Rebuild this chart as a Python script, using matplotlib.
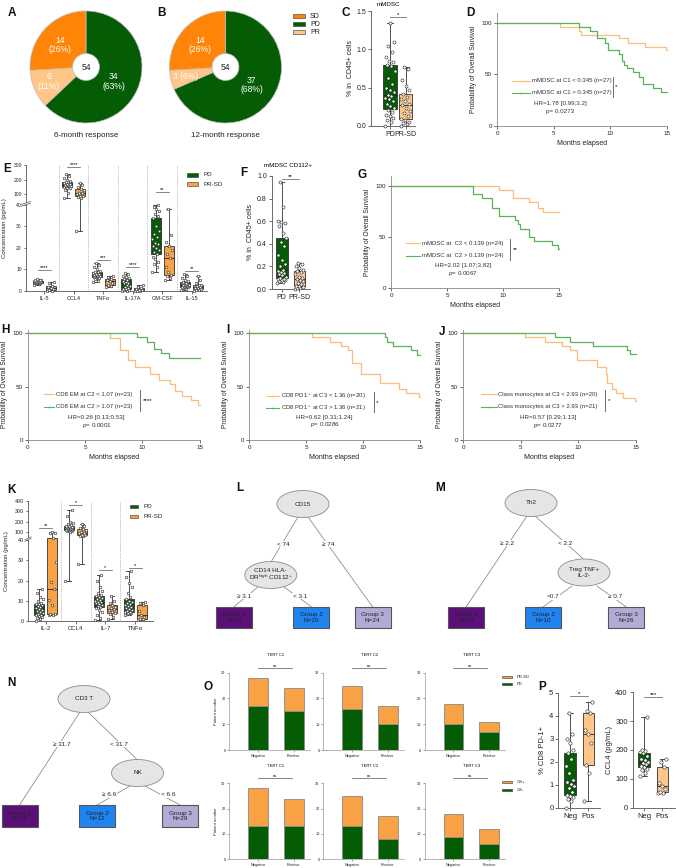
import numpy as np
import matplotlib
matplotlib.use("Agg")
import matplotlib.pyplot as plt
from matplotlib.patches import Ellipse, Rectangle
from matplotlib.ticker import NullLocator

W, H = 676, 868

GREEN = "#045c04"
SD_ORANGE = "#ff8407"
PR_LIGHT = "#ffc687"
BOX_ORANGE = "#f8a245"
KM_ORANGE = "#fbbd78"
KM_GREEN = "#58b458"
G1_PURPLE = "#5b1078"
G2_BLUE = "#1f84f0"
G3_LAVENDER = "#b4aad6"

# ---------------- data ----------------
# A / B: response donuts (PD, PR, SD)
RESP_NAMES = ["PD", "PR", "SD"]
RESP_6M = [34, 6, 14]
RESP_12M = [37, 3, 14]
PCT_6M = [63, 11, 26]
PCT_12M = [68, 6, 26]
N_PATIENTS = 54

# C: mMDSC (% in CD45+)
C_PD = [0.00, 0.05, 0.08, 0.10, 0.13, 0.15, 0.18, 0.21, 0.23, 0.26, 0.29, 0.32, 0.35,
        0.37, 0.39, 0.41, 0.44, 0.47, 0.50, 0.55, 0.62, 0.72, 0.78, 0.80, 0.83, 0.85,
        0.90, 0.97, 1.05, 1.10, 1.35]
C_PRSD = [0.00, 0.02, 0.04, 0.05, 0.08, 0.09, 0.13, 0.17, 0.20, 0.24, 0.27, 0.29, 0.32,
          0.35, 0.38, 0.42, 0.47, 0.52, 0.60, 0.75, 0.77]

# F: mMDSC CD112+
F_PD = [0.05, 0.06, 0.07, 0.08, 0.08, 0.09, 0.09, 0.10, 0.11, 0.12, 0.13, 0.14, 0.15,
        0.16, 0.17, 0.20, 0.22, 0.26, 0.30, 0.38, 0.42, 0.45, 0.50, 0.56, 0.58, 0.59,
        0.60, 0.73, 0.95]
F_PRSD = [0.00, 0.005, 0.01, 0.02, 0.025, 0.03, 0.04, 0.05, 0.07, 0.08, 0.09, 0.10,
          0.11, 0.13, 0.15, 0.16, 0.17, 0.19, 0.20, 0.22, 0.23]

# E: cytokines (pg/mL)
E_NAMES = ["IL-5", "CCL4", "TNFα", "IL-17A", "GM-CSF", "IL-15"]
E_PD = [
    [3.0, 3.3, 3.5, 3.6, 3.65, 3.7, 3.8, 3.9, 4.0, 4.1, 4.2, 4.3, 4.4, 4.5, 4.6, 4.8, 4.9, 5.0, 5.1, 5.3, 5.5],
    [75, 110, 125, 140, 145, 150, 152, 155, 158, 162, 165, 168, 170, 175, 180, 185, 190, 200, 210, 225, 240],
    [4.0, 4.8, 5.5, 6.0, 6.3, 6.5, 6.8, 7.0, 7.2, 7.3, 7.5, 7.7, 7.9, 8.2, 8.6, 9.0, 9.4, 10, 11, 12, 13],
    [0, 0.2, 0.4, 0.6, 0.8, 1.0, 1.5, 2.0, 2.5, 3.0, 3.5, 3.8, 4.2, 4.6, 5.0, 5.5, 6.0, 6.5, 7.2, 8.0, 8.5],
    [9, 11, 12.5, 13.5, 15, 16, 17, 18, 19, 20, 21, 22, 22.5, 24, 25, 26.5, 28, 30, 34, 35, 36, 37, 38, 39, 40],
    [0.5, 1.0, 1.4, 1.7, 1.9, 2.0, 2.2, 2.5, 2.7, 2.8, 3.0, 3.1, 3.3, 3.5, 3.8, 4.0, 4.5, 5.0, 6.0, 7.0, 8.0],
]
E_PRSD = [
    [0, 0.2, 0.5, 1.0, 1.5, 2.0, 2.5, 3.8, 4.3],
    [28, 70, 80, 85, 90, 100, 105, 110, 125, 135, 150, 165, 175],
    [2.0, 2.5, 3.0, 3.8, 4.5, 5.0, 5.8, 6.5, 7.0],
    [0, 0.1, 0.2, 0.3, 0.5, 0.8, 1.2, 2.0, 3.0],
    [5, 6, 7, 7.5, 9, 11, 15.5, 17, 19, 21, 23, 26, 38],
    [0, 0.3, 0.6, 0.8, 1.2, 1.6, 2.0, 2.3, 2.6, 3.0, 3.5, 5.0, 7.0],
]
E_SIG = ["****", "****", "***", "****", "**", "**"]
E_SIG_Y = [9.8, 284, 14.4, 11, 113, 9.5]

# K: cytokines (pg/mL)
K_NAMES = ["IL-2", "CCL4", "IL-7", "TNFα"]
K_PD = [
    [0, 0.8, 1.5, 2, 2.5, 2.8, 3, 3.5, 4, 4.5, 5, 5.5, 6, 6.5, 7, 7.5, 8, 8.3, 8.5, 9, 10, 11, 12, 14, 16],
    [20, 95, 105, 110, 115, 118, 120, 125, 130, 133, 135, 138, 140, 142, 145, 148, 150, 155, 160, 165, 175, 185, 200, 250, 310],
    [0.5, 1.5, 3, 4.5, 5.5, 6.5, 7, 7.5, 8, 8.5, 9, 9.2, 9.5, 10, 10.5, 11, 11.5, 12, 12.5, 13, 14, 15, 17, 20, 23],
    [3, 3.3, 3.6, 3.9, 4.2, 4.4, 4.5, 5, 5.5, 6, 6.5, 7, 7.5, 8, 8.5, 9, 9.5, 10, 11, 12, 14, 17, 19, 22, 24.5],
]
K_PRSD = [
    [3.0, 3.2, 3.4, 3.5, 8, 10.5, 16, 19.5, 29, 41, 85, 90, 95],
    [28, 60, 65, 70, 75, 85, 90, 100, 115, 130, 140, 160, 175],
    [1, 2, 3.5, 4, 4.5, 5.5, 6, 6.5, 7, 8, 9, 10, 12.5],
    [0.5, 0.8, 1.0, 2, 3, 5, 8, 9, 9.5],
]
K_SIG = ["**", "*", "*", "*"]
K_SIG_Y = [136, 362, 25.2, 26.4]

# Kaplan-Meier curves (months, % surviving)
D_LOW_T = [0, 5.6, 7.2, 7.4, 10.8, 11.6, 13.1, 14.9, 15]
D_LOW_S = [100, 96, 92, 88, 85, 81, 77, 74, 74]
D_HIGH_T = [0, 7.2, 8.2, 8.8, 9.5, 9.8, 10.8, 11.0, 11.2, 11.5, 12.0, 12.5, 12.9, 13.8, 14.5, 15]
D_HIGH_S = [100, 96, 92, 85, 81, 74, 70, 63, 59, 56, 52, 48, 41, 37, 33, 33]
G_LOW_T = [0, 9.65, 10.9, 12.3, 13.1, 13.6, 15]
G_LOW_S = [100, 96, 88, 84, 79, 75, 75]
G_HIGH_T = [0, 7.3, 8.1, 9.0, 9.6, 11.1, 11.3, 11.5, 12.3, 12.8, 14.4, 14.95, 15]
G_HIGH_S = [100, 92, 88, 79, 71, 67, 63, 58, 50, 46, 42, 38, 38]
H_LOW_T = [0, 7.2, 8.1, 8.8, 9.4, 10.7, 11.5, 12.4, 12.9, 13.5, 14.3, 14.9, 15]
H_LOW_S = [100, 95, 84, 75, 68, 62, 56, 52, 46, 41, 37, 33, 33]
H_HIGH_T = [0, 9.5, 10.4, 11.0, 11.6, 12.3, 15]
H_HIGH_S = [100, 96, 92, 85, 81, 77, 77]
I_LOW_T = [0, 5.5, 7.1, 8.1, 8.7, 9.0, 9.8, 11.5, 13.2, 13.8, 14.9, 15]
I_LOW_S = [100, 96, 92, 88, 84, 72, 62, 53, 48, 44, 40, 40]
I_HIGH_T = [0, 11.9, 12.1, 12.6, 14.2, 14.7, 15]
I_HIGH_S = [100, 96, 92, 88, 84, 79, 79]
J_LOW_T = [0, 5.4, 7.1, 8.6, 9.3, 9.9, 11.6, 12.4, 12.5, 12.9, 13.3, 13.9, 14.9, 15]
J_LOW_S = [100, 96, 92, 88, 84, 75, 68, 62, 53, 48, 44, 39, 36, 36]
J_HIGH_T = [0, 8.0, 9.3, 11.3, 14.2, 14.5, 15]
J_HIGH_S = [100, 96, 92, 88, 84, 80, 80]

D_LABELS = ["mMDSC at C1 < 0.345 (n=27)", "mMDSC at C1 > 0.345 (n=27)"]
G_LABELS = ["mMDSC at  C2 < 0.139 (n=24)", "mMDSC at  C2 > 0.139 (n=24)"]
H_LABELS = ["CD8 EM at C2 < 1.07 (n=23)", "CD8 EM at C2 > 1.07 (n=23)"]
I_LABELS = ["CD8 PD1$^+$ at C3 < 1.36 (n=20)", "CD8 PD1$^+$ at C3 > 1.36 (n=21)"]
J_LABELS = ["Class monocytes at C3 < 2.93 (n=20)", "Class monocytes at C3 > 2.93 (n=21)"]
KM_HR = {"D": "HR=1.78 [0.99;3.2]", "G": "HR=2.02 [1.07;3.82]", "H": "HR=0.26 [0.13;0.53]",
         "I": "HR=0.62 [0.31;1.24]", "J": "HR=0.57 [0.29;1.13]"}
KM_P = {"D": "p= 0.0273", "G": "$p$= 0.0067", "H": "$p$= 0.0001", "I": "$p$= 0.0286", "J": "$p$= 0.0277"}
KM_STARS = {"D": "*", "G": "**", "H": "****", "I": "*", "J": "*"}

# L / M / N decision trees
L_TREE = ["CD15", "< 74", "≥ 74", "CD14 HLA-\nDR$^{high}$ CD112$^{+}$", "≥ 3.1", "< 3.1"]
L_N = [10, 20, 24]
M_TREE = ["Th2", "≥ 2.2", "< 2.2", "Treg TNF+\nIL-2-", "<0.7", "≥ 0.7"]
M_N = [14, 10, 26]
N_TREE = ["CD3 T", "≥ 31.7", "< 31.7", "NK", "≥ 6.6", "< 6.6"]
N_N = [13, 12, 29]

# O: TERT stacked bars (Negative, Positive)
O_CATS = ["Negative", "Positive"]
O_TITLES = ["TERT C1", "TERT C2", "TERT C3"]
O_TOP_PD = [[17, 15], [16, 10], [10, 7]]
O_TOP_PRSD = [[11, 9], [9, 7], [8, 4]]
O_BOT_OSNEG = [[13, 13], [13, 8], [9, 6]]
O_BOT_OSPOS = [[15, 11], [12, 9], [9, 6]]

# P
P_CATS = ["Neg", "Pos"]
P_PD1_NEG = [0, 0.3, 0.4, 0.45, 0.5, 0.55, 0.7, 0.85, 0.95, 1.05, 1.1, 1.2, 1.5, 1.8, 2.1,
             2.4, 2.5, 2.8, 3.0, 3.2, 4.1]
P_PD1_POS = [0.3, 1.5, 1.85, 2.8, 3.2, 3.4, 4.1, 4.2, 4.6]
P_CCL4_NEG = [110, 120, 130, 135, 140, 145, 150, 155, 160, 165, 170, 180, 188, 192, 196, 200, 315]
P_CCL4_POS = [50, 52, 55, 65, 75, 85, 140, 160, 170]

# ---------------- style ----------------
plt.rcParams["font.family"] = ["Liberation Sans", "DejaVu Sans"]
plt.rcParams["mathtext.fontset"] = "custom"
plt.rcParams["mathtext.rm"] = "Liberation Sans"
plt.rcParams["mathtext.it"] = "Liberation Sans:italic"
plt.rcParams["mathtext.bf"] = "Liberation Sans:bold"
plt.rcParams["font.size"] = 4.5
plt.rcParams["axes.facecolor"] = "none"
plt.rcParams["axes.linewidth"] = 0.6
plt.rcParams["axes.edgecolor"] = "#555555"
plt.rcParams["xtick.major.width"] = 0.6
plt.rcParams["ytick.major.width"] = 0.6
plt.rcParams["xtick.major.size"] = 2
plt.rcParams["ytick.major.size"] = 2
plt.rcParams["xtick.major.pad"] = 1.5
plt.rcParams["ytick.major.pad"] = 1.5
plt.rcParams["xtick.color"] = "#555555"
plt.rcParams["ytick.color"] = "#555555"
plt.rcParams["xtick.labelcolor"] = "#222222"
plt.rcParams["ytick.labelcolor"] = "#222222"
plt.rcParams["axes.labelcolor"] = "#222222"

fig = plt.figure(figsize=(W / 100, H / 100), dpi=100)


def add_ax(x0, y0, x1, y1):
    # pixel box, origin top-left
    return fig.add_axes([x0 / W, 1 - y1 / H, (x1 - x0) / W, (y1 - y0) / H])


def clean(ax):
    ax.spines["top"].set_visible(False)
    ax.spines["right"].set_visible(False)


def boxes(ax, groups, pos, colors, width, ms=2.0):
    bp = ax.boxplot(groups, positions=pos, widths=width, whis=(0, 100), patch_artist=True,
                    showfliers=False, manage_ticks=False, capwidths=width * 0.45,
                    medianprops=dict(color="#222222", lw=0.6),
                    boxprops=dict(lw=0.6, edgecolor="#333333"),
                    whiskerprops=dict(lw=0.6, color="#333333"),
                    capprops=dict(lw=0.6, color="#333333"))
    for patch, c in zip(bp["boxes"], colors):
        patch.set_facecolor(c)
    for vals, p in zip(groups, pos):
        offs = np.array([((i * 0.618) % 1 - 0.5) * width * 0.75 for i in range(len(vals))])
        ax.plot(p + offs, vals, "o", ms=ms, mfc="white", mec="#222222", mew=0.4, zorder=3,
                clip_on=False)


def sig(ax, x0, x1, y, txt, fs=4.5):
    ax.plot([x0, x1], [y, y], color="#555555", lw=0.5, clip_on=False)
    ax.text((x0 + x1) / 2, y, txt, ha="center", va="bottom", fontsize=fs, clip_on=False)


def broken(k):
    def fwd(v):
        v = np.asarray(v, dtype=float)
        return np.where(v <= 40, v, 41 + (v - 40) * k)

    def inv(u):
        u = np.asarray(u, dtype=float)
        return np.where(u <= 40, u, np.where(u <= 41, 40.0, 40 + (u - 41) / k))
    return fwd, inv


def cyto_panel(ax, names, pd_groups, pr_groups, k, top, yticks, sigs, sig_y, fs, label_x):
    ax.set_yscale("function", functions=broken(k))
    x = np.arange(len(names))
    boxes(ax, pd_groups, x - 0.22, [GREEN] * len(names), 0.34, ms=1.9)
    boxes(ax, pr_groups, x + 0.22, [BOX_ORANGE] * len(names), 0.34, ms=1.9)
    for i in range(len(names) - 1):
        ax.axvline(i + 0.5, color="#888888", lw=0.5, ls=(0, (1, 1.5)), zorder=0)
    ax.set_ylim(0, top)
    ax.set_yticks(yticks)
    ax.set_yticklabels([str(t) for t in yticks])
    ax.yaxis.set_minor_locator(NullLocator())
    ax.set_xticks(x)
    ax.set_xticklabels(names)
    ax.tick_params(labelsize=fs)
    ax.tick_params(axis="y", labelsize=fs - 0.4, length=1.5)
    clean(ax)
    for i, (s, y) in enumerate(zip(sigs, sig_y)):
        sig(ax, i - 0.22, i + 0.22, y, s, fs=4)
    ftop = 41 + (top - 40) * k
    y0, y1 = 40.1 / ftop, 40.9 / ftop
    ax.add_patch(Rectangle((-0.03, y0), 0.06, y1 - y0, transform=ax.transAxes, fc="white",
                           ec="none", clip_on=False, zorder=5))
    for yy in (y0, y1):
        ax.plot([-0.025, 0.025], [yy - 0.012, yy + 0.012], transform=ax.transAxes,
                color="#555555", lw=0.5, clip_on=False, zorder=6)
    ax.set_ylabel("Concentration (pg/mL)", fontsize=4.3)
    ax.yaxis.set_label_coords(label_x, 0.5)


def km(ax, tl, sl, th, sh, ytop):
    ax.step(tl, sl, where="post", color=KM_ORANGE, lw=0.9, clip_on=False)
    ax.step(th, sh, where="post", color=KM_GREEN, lw=0.9, clip_on=False)
    ax.set_xlim(0, 15)
    ax.set_ylim(0, ytop)
    ax.set_xticks([0, 5, 10, 15])
    ax.set_yticks([0, 50, 100])
    for s in ("left", "bottom"):
        ax.spines[s].set_color("#888888")
    clean(ax)
    ax.tick_params(labelsize=4.5)
    ax.set_xlabel("Months elapsed", fontsize=5, labelpad=3)
    ax.set_ylabel("Probability of Overall Survival", fontsize=4.8, labelpad=3)


# ---------------- A / B donuts ----------------
def donut(cx, cy, counts, pcts, label_xy, caption, one_line):
    r = 56
    ax = add_ax(cx - r * 1.05, cy - r * 1.05, cx + r * 1.05, cy + r * 1.05)
    ax.pie(counts, colors=[GREEN, PR_LIGHT, SD_ORANGE], startangle=90, counterclock=False,
           radius=1, wedgeprops=dict(width=0.76, edgecolor="#bdbdbd", linewidth=0.5))
    ax.set_xlim(-1.05, 1.05)
    ax.set_ylim(-1.05, 1.05)
    for i, (n, p, xy) in enumerate(zip(counts, pcts, label_xy)):
        txt = f"{n} ({p}%)" if i in one_line else f"{n}\n({p}%)"
        ax.text(xy[0], xy[1], txt, ha="center", va="center", fontsize=6.2, color="white",
                linespacing=1.05)
    ax.text(0, 0, str(N_PATIENTS), ha="center", va="center", fontsize=6.2, color="#222222")
    ax.text(0, -1.22, caption, ha="center", va="center", fontsize=5.8, color="#222222")


donut(86, 67, RESP_6M, PCT_6M, [(0.49, -0.26), (-0.66, -0.26), (-0.46, 0.39)],
      "6-month response", [])
donut(225.5, 67, RESP_12M, PCT_12M, [(0.47, -0.32), (-0.72, -0.17), (-0.46, 0.39)],
      "12-month response", [1])

# ---------------- C ----------------
axc = add_ax(371, 11, 415, 126)
boxes(axc, [C_PD, C_PRSD], [0, 1], [GREEN, PR_LIGHT], 0.85, ms=2.2)
axc.set_xlim(-1.2, 1.6)
axc.set_ylim(0, 1.5)
axc.set_yticks([0, 0.5, 1.0, 1.5])
axc.set_xticks([0, 1])
axc.set_xticklabels(["PD", "PR-SD"])
axc.tick_params(labelsize=5)
axc.set_ylabel("% in  CD45+ cells", fontsize=5, labelpad=2)
clean(axc)
sig(axc, 0, 1, 1.42, "*")

# ---------------- F ----------------
axf = add_ax(271.7, 176, 310, 289)
boxes(axf, [F_PD, F_PRSD], [0, 1], [GREEN, PR_LIGHT], 0.66, ms=2.2)
axf.set_xlim(-0.57, 1.6)
axf.set_ylim(0, 1.0)
axf.set_yticks([0, 0.2, 0.4, 0.6, 0.8, 1.0])
axf.set_xticks([0, 1])
axf.set_xticklabels(["PD", "PR-SD"])
axf.tick_params(labelsize=5)
axf.set_ylabel("% in  CD45+ cells", fontsize=5, labelpad=2)
clean(axf)
sig(axf, 0, 1, 0.97, "**")

# ---------------- E / K ----------------
axe = add_ax(26, 165, 207, 291)
cyto_panel(axe, E_NAMES, E_PD, E_PRSD, 0.0675, 300, [0, 10, 20, 30, 40, 100, 200, 300],
           E_SIG, E_SIG_Y, 4, -0.105)
axe.set_xlim(-0.62, 5.52)

axk = add_ax(28, 501, 153, 621)
cyto_panel(axk, K_NAMES, K_PD, K_PRSD, 0.051, 400, [0, 10, 20, 30, 40, 100, 200, 300, 400],
           K_SIG, K_SIG_Y, 4.3, -0.15)
axk.set_xlim(-0.6, 3.6)

# ---------------- KM panels ----------------
axd = add_ax(497, 12.7, 667, 126)
km(axd, D_LOW_T, D_LOW_S, D_HIGH_T, D_HIGH_S, 110)
axg = add_ax(391, 175.8, 559, 288.3)
km(axg, G_LOW_T, G_LOW_S, G_HIGH_T, G_HIGH_S, 110)
axh = add_ax(27.7, 329.8, 199.5, 440)
km(axh, H_LOW_T, H_LOW_S, H_HIGH_T, H_HIGH_S, 103)
axi = add_ax(249, 329.8, 420, 440)
km(axi, I_LOW_T, I_LOW_S, I_HIGH_T, I_HIGH_S, 103)
axj = add_ax(463, 329.8, 636, 440)
km(axj, J_LOW_T, J_LOW_S, J_HIGH_T, J_HIGH_S, 103)

# ---------------- O ----------------
def stacked(ax, lower, upper, title, first):
    x = np.arange(2)
    ax.bar(x, lower, width=0.55, color=GREEN, edgecolor="#8a8a8a", lw=0.6)
    ax.bar(x, upper, bottom=lower, width=0.55, color=BOX_ORANGE, edgecolor="#8a8a8a", lw=0.6)
    ax.set_xlim(-0.8, 1.45)
    ax.set_ylim(0, 30)
    ax.set_yticks([0, 10, 20, 30])
    ax.set_xticks(x)
    ax.set_xticklabels(O_CATS)
    ax.tick_params(labelsize=2.8, length=1.2, width=0.4)
    for s in ("left", "bottom"):
        ax.spines[s].set_color("#999999")
        ax.spines[s].set_linewidth(0.5)
    clean(ax)
    sig(ax, 0, 0.95, 32, "ns", fs=3)
    ax.text(0.5, 36, title, ha="center", va="bottom", fontsize=3, clip_on=False)
    if first:
        ax.set_ylabel("Patient number", fontsize=3, labelpad=2)


O_COLS = [(229.3, 310), (323.3, 404), (425, 505)]
for j, (x0, x1) in enumerate(O_COLS):
    stacked(add_ax(x0, 672.7, x1, 750), O_TOP_PD[j], O_TOP_PRSD[j], O_TITLES[j], j == 0)
    stacked(add_ax(x0, 783.3, x1, 859.3), O_BOT_OSNEG[j], O_BOT_OSPOS[j], O_TITLES[j], j == 0)

# ---------------- P ----------------
axp1 = add_ax(558.3, 692.7, 600, 807.7)
boxes(axp1, [P_PD1_NEG, P_PD1_POS], [0, 1], [GREEN, PR_LIGHT], 0.62, ms=2.4)
axp1.set_xlim(-0.64, 1.64)
axp1.set_ylim(0, 5)
axp1.set_yticks(range(6))
axp1.set_xticks([0, 1])
axp1.set_xticklabels(P_CATS)
axp1.tick_params(labelsize=5.5)
axp1.set_ylabel("% CD8 PD-1+", fontsize=5.5, labelpad=2)
clean(axp1)
sig(axp1, 0, 1, 4.85, "*")

axp2 = add_ax(632.7, 692.3, 675, 807.7)
boxes(axp2, [P_CCL4_NEG, P_CCL4_POS], [0, 1], [GREEN, PR_LIGHT], 0.62, ms=2.4)
axp2.set_xlim(-0.62, 1.69)
axp2.set_ylim(0, 400)
axp2.set_yticks([0, 100, 200, 300, 400])
axp2.set_xticks([0, 1])
axp2.set_xticklabels(P_CATS)
axp2.tick_params(labelsize=5.5)
axp2.set_ylabel("CCL4 (pg/mL)", fontsize=5.5, labelpad=2)
clean(axp2)
sig(axp2, 0, 1, 385, "***")

# ---------------- overlay (legends, trees, labels) ----------------
ov = fig.add_axes([0, 0, 1, 1])
ov.set_xlim(0, W)
ov.set_ylim(H, 0)
ov.axis("off")


def swatch(x0, x1, y, color, label, h=4.5, fs=5):
    ov.add_patch(Rectangle((x0, y - h / 2), x1 - x0, h, fc=color, ec="#333333", lw=0.4))
    ov.text(x1 + 5, y, label, ha="left", va="center", fontsize=fs, color="#222222")


# A/B legend
for y, c, lab in zip([16, 24, 32], [SD_ORANGE, GREEN, PR_LIGHT], ["SD", "PD", "PR"]):
    swatch(293, 305, y, c, lab)
# E / K legends
swatch(186.7, 198.3, 175, GREEN, "PD", h=3.5, fs=4.5)
swatch(186.7, 198.3, 184, BOX_ORANGE, "PR-SD", h=3.5, fs=4.5)
swatch(130, 138.3, 506.7, GREEN, "PD", h=3.5, fs=4.5)
swatch(130, 138.3, 516.7, BOX_ORANGE, "PR-SD", h=3.5, fs=4.5)
# O legends
swatch(501.7, 511.7, 676.7, BOX_ORANGE, "PR-SD", h=2, fs=3)
swatch(501.7, 511.7, 684.3, GREEN, "PD", h=2, fs=3)
swatch(501.7, 511.7, 781.7, BOX_ORANGE, "OS+", h=2, fs=3)
swatch(501.7, 511.7, 790, GREEN, "OS-", h=2, fs=3)

# box titles
ov.text(388, 4.5, "mMDSC", ha="center", va="center", fontsize=4.5)
ov.text(288, 165.7, "mMDSC CD112+", ha="center", va="center", fontsize=4.5)


def km_legend(key, labels, x0, x1, y_low, y_high, bx, hx, hy, py, fs=4.3):
    for y, c, lab in zip([y_low, y_high], [KM_ORANGE, KM_GREEN], labels):
        ov.plot([x0, (x0 + x1) / 2, x1], [y, y, y], color=c, lw=0.8, marker="|",
                markevery=[1], ms=2, mew=0.5)
        ov.text(x1 + 2, y, lab, ha="left", va="center", fontsize=fs, color="#333333")
    ov.plot([bx, bx], [y_low - 4, y_high + 4], color="#555555", lw=0.6)
    ov.text(bx + 2.5, (y_low + y_high) / 2, KM_STARS[key], ha="left", va="center", fontsize=4.5)
    ov.text(hx, hy, KM_HR[key], ha="center", va="center", fontsize=fs + 0.2, color="#333333")
    ov.text(hx, py, KM_P[key], ha="center", va="center", fontsize=fs + 0.2, color="#333333")


km_legend("D", D_LABELS, 512, 530, 80.7, 92.7, 612.7, 560, 104, 111)
km_legend("G", G_LABELS, 405.7, 420, 243.3, 255.7, 510, 463, 266, 273.3)
km_legend("H", H_LABELS, 43.5, 54.4, 394.3, 406.7, 140, 96.7, 417.3, 425)
km_legend("I", I_LABELS, 265.7, 278.7, 396, 408.3, 373.7, 324.5, 417.3, 424.3)
km_legend("J", J_LABELS, 481, 496.5, 394.3, 406.7, 605, 548, 417.3, 425)


# trees
def tree_node(cx, cy, text):
    ov.add_patch(Ellipse((cx, cy), 52, 27, fc="#e5e5e5", ec="#8c8c8c", lw=0.6, zorder=3))
    ov.text(cx, cy, text, ha="center", va="center", fontsize=4.6, color="#222222", zorder=4,
            linespacing=1.05)


def tree_leaf(cx, top, color, name, n, h=21.6):
    ov.add_patch(Rectangle((cx - 18, top), 36, h, fc=color, ec="#555555", lw=0.8, zorder=3))
    ov.text(cx, top + h / 2, f"{name}\nN={n}", ha="center", va="center", fontsize=4.6,
            color="#222222", zorder=4, linespacing=1.1)


def tree_edge(p0, p1, label, lxy):
    ov.plot([p0[0], p1[0]], [p0[1], p1[1]], color="#7a7a7a", lw=0.5, zorder=1)
    ov.text(lxy[0], lxy[1], label, ha="center", va="center", fontsize=4.6, color="#222222",
            zorder=2, bbox=dict(fc="white", ec="none", pad=0.4))


# L
tree_edge((298, 517), (271, 562), L_TREE[1], (283.3, 544.3))
tree_edge((308, 517), (372.5, 606.7), L_TREE[2], (328.3, 544.3))
tree_edge((258, 587), (234, 606.7), L_TREE[4], (244, 596))
tree_edge((284, 587), (311.3, 606.7), L_TREE[5], (300, 596))
tree_node(303, 504, L_TREE[0])
tree_node(270.8, 575, L_TREE[3])
tree_leaf(234, 606.7, G1_PURPLE, "Group 1", L_N[0])
tree_leaf(311.3, 606.7, G2_BLUE, "Group 2", L_N[1])
tree_leaf(372.5, 606.7, G3_LAVENDER, "Group 3", L_N[2])
# M
tree_edge((527, 516), (466.2, 606.7), M_TREE[1], (507.3, 543.3))
tree_edge((535, 516), (583, 558.5), M_TREE[2], (565, 543.3))
tree_edge((572, 586), (543.3, 606.7), M_TREE[4], (553.3, 596.7))
tree_edge((597, 586), (626, 606.7), M_TREE[5], (615, 596.7))
tree_node(531, 503, M_TREE[0])
tree_node(584, 572.5, M_TREE[3])
tree_leaf(466.2, 606.7, G1_PURPLE, "Group 1", M_N[0])
tree_leaf(543.3, 606.7, G2_BLUE, "Group 2", M_N[1])
tree_leaf(626, 606.7, G3_LAVENDER, "Group 3", M_N[2])
# N
tree_edge((80, 712), (19.5, 805), N_TREE[1], (61.7, 744))
tree_edge((88, 712), (137, 759.5), N_TREE[2], (119, 744))
tree_edge((130, 786), (97, 805), N_TREE[4], (109.3, 794.7))
tree_edge((145, 786), (180, 805), N_TREE[5], (168.3, 794.7))
tree_node(84, 699, N_TREE[0])
tree_node(137.5, 773, N_TREE[3])
tree_leaf(19.5, 805, G1_PURPLE, "Group 1", N_N[0], h=22.3)
tree_leaf(97, 805, G2_BLUE, "Group 2", N_N[1], h=22.3)
tree_leaf(180, 805, G3_LAVENDER, "Group 3", N_N[2], h=22.3)

# panel letters
PANELS = {"A": (12, 13), "B": (161.7, 13.3), "C": (346, 13.3), "D": (470, 13.3),
          "E": (6.7, 169.3), "F": (244, 173.3), "G": (361.7, 175), "H": (5, 330),
          "I": (228, 330), "J": (441.7, 331.7), "K": (11, 490), "L": (240, 488),
          "M": (440, 488), "N": (11, 683), "O": (208, 687), "P": (541.7, 686.7)}
for lab, (x, y) in PANELS.items():
    ov.text(x, y, lab, ha="center", va="center", fontsize=8.5, fontweight="bold", color="#111111")

fig.savefig("out.png", dpi=100)
